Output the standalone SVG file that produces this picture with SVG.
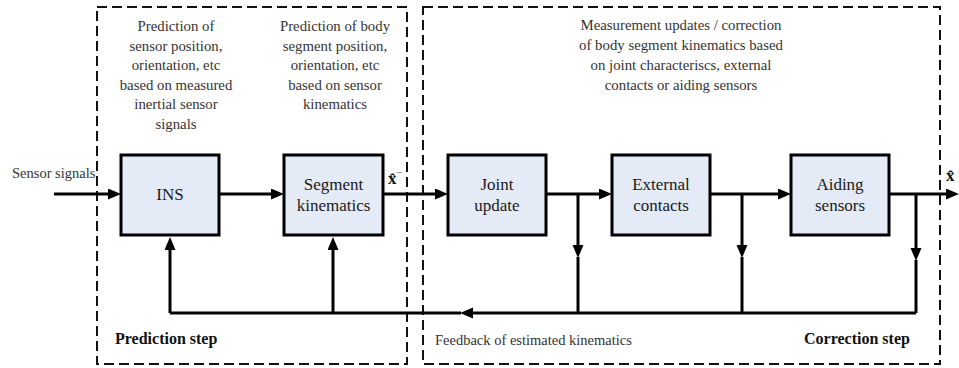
<svg xmlns="http://www.w3.org/2000/svg" width="959" height="368" viewBox="0 0 959 368">
  <style>
    .frame { fill: none; stroke: #111; stroke-width: 2; stroke-dasharray: 10 5; }
    .box { fill: #e4ebf6; stroke: #000; stroke-width: 3; }
    .wire { fill: none; stroke: #000; stroke-width: 3; }
    .arrow { fill: none; stroke: #000; stroke-width: 3; marker-end: url(#head); }
    text { font-family: "Liberation Serif", "DejaVu Serif", serif; }
    .note { font-size: 14.8px; fill: #333; text-anchor: middle; }
    .label { font-size: 17px; fill: #1a1a1a; text-anchor: middle; }
    .small { font-size: 14.5px; fill: #333; }
    .step { font-size: 16px; font-weight: bold; fill: #111; }
    .math { font-size: 17px; font-weight: bold; fill: #111; }
  </style>
  <defs>
    <marker id="head" markerUnits="userSpaceOnUse" markerWidth="14" markerHeight="12" refX="0" refY="5.5" orient="auto">
      <path d="M0,0 L13,5.5 L0,11 z" fill="#000"/>
    </marker>
  </defs>

  <!-- step frames -->
  <g id="prediction-frame">
    <rect class="frame" x="97" y="7" width="310" height="357"/>
    <text class="note" x="176" y="31">Prediction of</text>
    <text class="note" x="176" y="50.5">sensor position,</text>
    <text class="note" x="176" y="70">orientation, etc</text>
    <text class="note" x="176" y="89.5">based on measured</text>
    <text class="note" x="176" y="109">inertial sensor</text>
    <text class="note" x="176" y="128.5">signals</text>
    <text class="note" x="335" y="31">Prediction of body</text>
    <text class="note" x="335" y="50.5">segment position,</text>
    <text class="note" x="335" y="70">orientation, etc</text>
    <text class="note" x="335" y="89.5">based on sensor</text>
    <text class="note" x="335" y="109">kinematics</text>
    <text class="step" x="115" y="344">Prediction step</text>
  </g>
  <g id="correction-frame">
    <rect class="frame" x="423" y="7" width="517" height="357"/>
    <text class="note" x="681" y="29.5">Measurement updates / correction</text>
    <text class="note" x="681" y="49.5">of body segment kinematics based</text>
    <text class="note" x="681" y="69.5">on joint characteriscs, external</text>
    <text class="note" x="681" y="89.5">contacts or aiding sensors</text>
    <text class="small" x="435" y="345">Feedback of estimated kinematics</text>
    <text class="step" x="804" y="344">Correction step</text>
  </g>

  <!-- connectors -->
  <g id="connectors">
    <path class="arrow" d="M54,194 H108"/>
    <path class="arrow" d="M219,194 H271"/>
    <path class="arrow" d="M383,194 H435"/>
    <path class="arrow" d="M546,194 H599"/>
    <path class="arrow" d="M710,194 H778"/>
    <path class="arrow" d="M889,194 H946"/>
    <path class="arrow" d="M578,194 V245"/>
    <path class="wire" d="M578,257 V313"/>
    <path class="arrow" d="M742,194 V245"/>
    <path class="wire" d="M742,257 V313"/>
    <path class="arrow" d="M916,194 V248"/>
    <path class="wire" d="M916,260 V313"/>
    <path class="arrow" d="M916,313 H473"/>
    <path class="wire" d="M461,313 H170"/>
    <path class="arrow" d="M170,313 V250"/>
    <path class="arrow" d="M333,313 V250"/>
    <text class="small" x="12" y="178">Sensor signals</text>
    <text class="math" x="388" y="184">x̂<tspan font-size="10" dy="-8" font-weight="normal">−</tspan></text>
    <text class="math" x="946" y="181">x̂</text>
  </g>

  <!-- blocks -->
  <g id="ins">
    <rect class="box" x="121" y="155" width="98" height="80"/>
    <text class="label" x="170" y="200">INS</text>
  </g>
  <g id="segment-kinematics">
    <rect class="box" x="284" y="155" width="99" height="80"/>
    <text class="label" x="333.5" y="190">Segment</text>
    <text class="label" x="333.5" y="211">kinematics</text>
  </g>
  <g id="joint-update">
    <rect class="box" x="448" y="155" width="98" height="80"/>
    <text class="label" x="497" y="190">Joint</text>
    <text class="label" x="497" y="211">update</text>
  </g>
  <g id="external-contacts">
    <rect class="box" x="612" y="155" width="98" height="80"/>
    <text class="label" x="661" y="190">External</text>
    <text class="label" x="661" y="211">contacts</text>
  </g>
  <g id="aiding-sensors">
    <rect class="box" x="791" y="155" width="98" height="80"/>
    <text class="label" x="840" y="190">Aiding</text>
    <text class="label" x="840" y="211">sensors</text>
  </g>
</svg>
